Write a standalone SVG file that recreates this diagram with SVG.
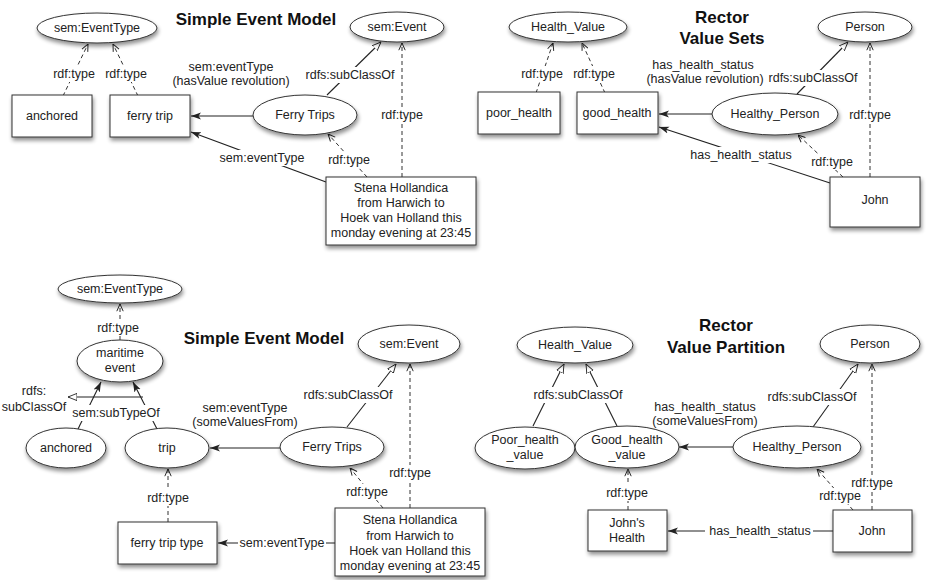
<svg xmlns="http://www.w3.org/2000/svg" width="927" height="580" viewBox="0 0 927 580">
<defs>
<filter id="sh" x="-20%" y="-20%" width="150%" height="160%">
<feGaussianBlur in="SourceAlpha" stdDeviation="2"/>
<feOffset dx="1" dy="3" result="b"/>
<feComponentTransfer><feFuncA type="linear" slope="0.45"/></feComponentTransfer>
<feMerge><feMergeNode/><feMergeNode in="SourceGraphic"/></feMerge>
</filter>
<marker id="fill" viewBox="0 0 10 10" refX="10" refY="5" markerWidth="10" markerHeight="10" markerUnits="userSpaceOnUse" orient="auto">
<path d="M0,1.5 L10,5 L0,8.5 L2.5,5 Z" fill="#222"/>
</marker>
<marker id="open" viewBox="0 0 10 10" refX="10" refY="5" markerWidth="9" markerHeight="9" markerUnits="userSpaceOnUse" orient="auto">
<path d="M0,1 L10,5 L0,9 Z" fill="#fff" stroke="#222" stroke-width="1"/>
</marker>
<marker id="vee" viewBox="0 0 10 10" refX="10" refY="5" markerWidth="8" markerHeight="8" markerUnits="userSpaceOnUse" orient="auto">
<path d="M1,1 L10,5 L1,9" fill="none" stroke="#222" stroke-width="1.2"/>
</marker>
</defs>
<style>
text{font-family:"Liberation Sans",Arial,sans-serif;font-size:12.5px;fill:#222;text-anchor:middle;dominant-baseline:central}
.t{font-size:17px;font-weight:bold;fill:#111}
.n{fill:#fff;stroke:#333;stroke-width:1;filter:url(#sh)}
.s{fill:none;stroke:#222;stroke-width:1.1}
.d{fill:none;stroke:#333;stroke-width:1;stroke-dasharray:4,3}
.lb{fill:#fff}
</style>
<rect width="927" height="580" fill="#fff"/>

<g id="titles">
<text class="t" x="256" y="19">Simple Event Model</text>
<text class="t" x="722" y="17">Rector</text>
<text class="t" x="722" y="38">Value Sets</text>
<text class="t" x="264" y="338">Simple Event Model</text>
<text class="t" x="726" y="325">Rector</text>
<text class="t" x="726" y="347">Value Partition</text>
</g>

<g id="connectors">
<!-- top-left -->
<line class="d" x1="63" y1="96" x2="88" y2="44" marker-end="url(#vee)"/>
<line class="d" x1="138" y1="96" x2="113" y2="44" marker-end="url(#vee)"/>
<line class="s" x1="253" y1="116" x2="191" y2="116" marker-end="url(#fill)"/>
<line class="s" x1="326" y1="182" x2="191" y2="132" marker-end="url(#fill)"/>
<line class="s" x1="327" y1="95" x2="381" y2="42" marker-end="url(#open)"/>
<line class="d" x1="402" y1="177" x2="402" y2="43" marker-end="url(#vee)"/>
<line class="d" x1="367" y1="177" x2="328" y2="134" marker-end="url(#vee)"/>
<!-- top-right -->
<line class="d" x1="536" y1="93" x2="553" y2="43" marker-end="url(#vee)"/>
<line class="d" x1="605" y1="93" x2="582" y2="43" marker-end="url(#vee)"/>
<line class="s" x1="712" y1="114" x2="659" y2="114" marker-end="url(#fill)"/>
<line class="s" x1="830" y1="183" x2="659" y2="127" marker-end="url(#fill)"/>
<line class="s" x1="797" y1="94" x2="848" y2="42" marker-end="url(#open)"/>
<line class="d" x1="870" y1="177" x2="870" y2="43" marker-end="url(#vee)"/>
<line class="d" x1="843" y1="177" x2="798" y2="135" marker-end="url(#vee)"/>
<!-- bottom-left -->
<line class="d" x1="120" y1="340" x2="120" y2="304" marker-end="url(#vee)"/>
<line class="s" x1="78" y1="429" x2="101" y2="382" marker-end="url(#fill)"/>
<line class="s" x1="157" y1="429" x2="133" y2="382" marker-end="url(#fill)"/>
<polyline class="s" points="143,397 68,397" marker-end="url(#open)"/>
<line class="s" x1="280" y1="448" x2="210" y2="448" marker-end="url(#fill)"/>
<line class="d" x1="168" y1="522" x2="168" y2="469" marker-end="url(#vee)"/>
<line class="s" x1="335" y1="543" x2="218" y2="543" marker-end="url(#fill)"/>
<line class="s" x1="347" y1="427" x2="396" y2="364" marker-end="url(#open)"/>
<line class="d" x1="410" y1="508" x2="410" y2="364" marker-end="url(#vee)"/>
<line class="d" x1="383" y1="508" x2="350" y2="468" marker-end="url(#vee)"/>
<!-- bottom-right -->
<line class="s" x1="533" y1="426" x2="564" y2="364" marker-end="url(#open)"/>
<line class="s" x1="617" y1="426" x2="586" y2="364" marker-end="url(#open)"/>
<line class="s" x1="733" y1="447" x2="679" y2="447" marker-end="url(#fill)"/>
<line class="d" x1="628" y1="510" x2="628" y2="469" marker-end="url(#vee)"/>
<line class="s" x1="833" y1="531" x2="668" y2="531" marker-end="url(#fill)"/>
<line class="s" x1="813" y1="427" x2="858" y2="364" marker-end="url(#open)"/>
<line class="d" x1="872" y1="510" x2="872" y2="364" marker-end="url(#vee)"/>
<line class="d" x1="853" y1="510" x2="817" y2="469" marker-end="url(#vee)"/>
</g>

<g id="edge-labels">
<rect class="lb" x="52" y="66" width="44" height="16"/><text x="74" y="74">rdf:type</text>
<rect class="lb" x="104" y="66" width="44" height="16"/><text x="126" y="74">rdf:type</text>
<rect class="lb" x="170" y="59" width="122" height="30"/><text x="231" y="67">sem:eventType</text><text x="231" y="81">(hasValue revolution)</text>
<rect class="lb" x="220" y="150" width="84" height="16"/><text x="262" y="158">sem:eventType</text>
<rect class="lb" x="305" y="67" width="90" height="16"/><text x="350" y="75">rdfs:subClassOf</text>
<rect class="lb" x="380" y="107" width="44" height="16"/><text x="402" y="115">rdf:type</text>
<rect class="lb" x="327" y="152" width="44" height="16"/><text x="349" y="160">rdf:type</text>

<rect class="lb" x="520" y="66" width="44" height="16"/><text x="542" y="74">rdf:type</text>
<rect class="lb" x="572" y="66" width="44" height="16"/><text x="594" y="74">rdf:type</text>
<rect class="lb" x="644" y="57" width="122" height="30"/><text x="703" y="65">has_health_status</text><text x="705" y="79">(hasValue revolution)</text>
<rect class="lb" x="690" y="147" width="103" height="16"/><text x="741" y="155">has_health_status</text>
<rect class="lb" x="768" y="70" width="90" height="16"/><text x="813" y="78">rdfs:subClassOf</text>
<rect class="lb" x="849" y="107" width="44" height="16"/><text x="870" y="115">rdf:type</text>
<rect class="lb" x="810" y="154" width="44" height="16"/><text x="832" y="162">rdf:type</text>

<rect class="lb" x="95" y="320" width="46" height="16"/><text x="118" y="328">rdf:type</text>
<text x="34" y="391">rdfs:</text><text x="34" y="407">subClassOf</text>
<rect class="lb" x="75" y="405" width="82" height="16"/><text x="116" y="413">sem:subTypeOf</text>
<rect class="lb" x="191" y="400" width="108" height="30"/><text x="245" y="408">sem:eventType</text><text x="245" y="422">(someValuesFrom)</text>
<rect class="lb" x="146" y="490" width="44" height="16"/><text x="168" y="498">rdf:type</text>
<rect class="lb" x="238" y="535" width="88" height="16"/><text x="282" y="543">sem:eventType</text>
<rect class="lb" x="302" y="387" width="92" height="16"/><text x="348" y="395">rdfs:subClassOf</text>
<rect class="lb" x="388" y="465" width="44" height="16"/><text x="410" y="473">rdf:type</text>
<rect class="lb" x="345" y="484" width="44" height="16"/><text x="367" y="492">rdf:type</text>

<rect class="lb" x="531" y="387" width="94" height="16"/><text x="578" y="395">rdfs:subClassOf</text>
<rect class="lb" x="645" y="400" width="120" height="30"/><text x="705" y="407">has_health_status</text><text x="705" y="421">(someValuesFrom)</text>
<rect class="lb" x="605" y="485" width="44" height="16"/><text x="627" y="493">rdf:type</text>
<rect class="lb" x="705" y="523" width="108" height="16"/><text x="760" y="531">has_health_status</text>
<rect class="lb" x="767" y="389" width="92" height="16"/><text x="812" y="397">rdfs:subClassOf</text>
<rect class="lb" x="850" y="475" width="44" height="16"/><text x="872" y="483">rdf:type</text>
<rect class="lb" x="818" y="488" width="44" height="16"/><text x="840" y="496">rdf:type</text>
</g>

<g id="tl-eventtype"><ellipse class="n" cx="97" cy="28" rx="60" ry="15"/><text x="97" y="28">sem:EventType</text></g>
<g id="tl-anchored"><rect class="n" x="12" y="95" width="80" height="42"/><text x="52" y="116">anchored</text></g>
<g id="tl-ferrytrip"><rect class="n" x="110" y="95" width="80" height="42"/><text x="150" y="116">ferry trip</text></g>
<g id="tl-event"><ellipse class="n" cx="397" cy="27" rx="47" ry="15"/><text x="397" y="27">sem:Event</text></g>
<g id="tl-ferrytrips"><ellipse class="n" cx="305" cy="115" rx="52" ry="20"/><text x="305" y="115">Ferry Trips</text></g>
<g id="tl-stena"><rect class="n" x="326" y="177" width="150" height="68"/><text x="401" y="188">Stena Hollandica</text><text x="401" y="203">from Harwich to</text><text x="401" y="218">Hoek van Holland this</text><text x="401" y="233">monday evening at 23:45</text></g>

<g id="tr-healthvalue"><ellipse class="n" cx="568" cy="27" rx="59" ry="15"/><text x="568" y="27">Health_Value</text></g>
<g id="tr-poor"><rect class="n" x="478" y="92" width="82" height="42"/><text x="519" y="113">poor_health</text></g>
<g id="tr-good"><rect class="n" x="577" y="92" width="81" height="42"/><text x="617" y="113">good_health</text></g>
<g id="tr-person"><ellipse class="n" cx="865" cy="27" rx="47" ry="15"/><text x="865" y="27">Person</text></g>
<g id="tr-healthy"><ellipse class="n" cx="775" cy="114" rx="63" ry="21"/><text x="775" y="114">Healthy_Person</text></g>
<g id="tr-john"><rect class="n" x="830" y="177" width="90" height="50"/><text x="875" y="200">John</text></g>

<g id="bl-eventtype"><ellipse class="n" cx="120" cy="289" rx="62" ry="14"/><text x="120" y="289">sem:EventType</text></g>
<g id="bl-maritime"><ellipse class="n" cx="120" cy="361" rx="43" ry="21"/><text x="120" y="353">maritime</text><text x="120" y="368">event</text></g>
<g id="bl-anchored"><ellipse class="n" cx="66" cy="448" rx="40" ry="20"/><text x="66" y="448">anchored</text></g>
<g id="bl-trip"><ellipse class="n" cx="167" cy="448" rx="42" ry="20"/><text x="167" y="448">trip</text></g>
<g id="bl-ferrytriptype"><rect class="n" x="118" y="522" width="99" height="42"/><text x="167" y="543">ferry trip type</text></g>
<g id="bl-event"><ellipse class="n" cx="409" cy="344" rx="51" ry="19"/><text x="409" y="344">sem:Event</text></g>
<g id="bl-ferrytrips"><ellipse class="n" cx="332" cy="447" rx="52" ry="20"/><text x="332" y="447">Ferry Trips</text></g>
<g id="bl-stena"><rect class="n" x="335" y="508" width="150" height="68"/><text x="410" y="520">Stena Hollandica</text><text x="410" y="536">from Harwich to</text><text x="410" y="551">Hoek van Holland this</text><text x="410" y="566">monday evening at 23:45</text></g>

<g id="br-healthvalue"><ellipse class="n" cx="575" cy="345" rx="58" ry="18"/><text x="575" y="345">Health_Value</text></g>
<g id="br-poor"><ellipse class="n" cx="525" cy="448" rx="50" ry="21"/><text x="525" y="440">Poor_health</text><text x="525" y="455">_value</text></g>
<g id="br-good"><ellipse class="n" cx="627" cy="447" rx="52" ry="21"/><text x="627" y="440">Good_health</text><text x="627" y="455">_value</text></g>
<g id="br-person"><ellipse class="n" cx="870" cy="344" rx="50" ry="19"/><text x="870" y="344">Person</text></g>
<g id="br-healthy"><ellipse class="n" cx="797" cy="447" rx="64" ry="21"/><text x="797" y="447">Healthy_Person</text></g>
<g id="br-johnshealth"><rect class="n" x="588" y="510" width="79" height="41"/><text x="627" y="523">John's</text><text x="627" y="538">Health</text></g>
<g id="br-john"><rect class="n" x="833" y="510" width="79" height="42"/><text x="872" y="531">John</text></g>
</svg>
